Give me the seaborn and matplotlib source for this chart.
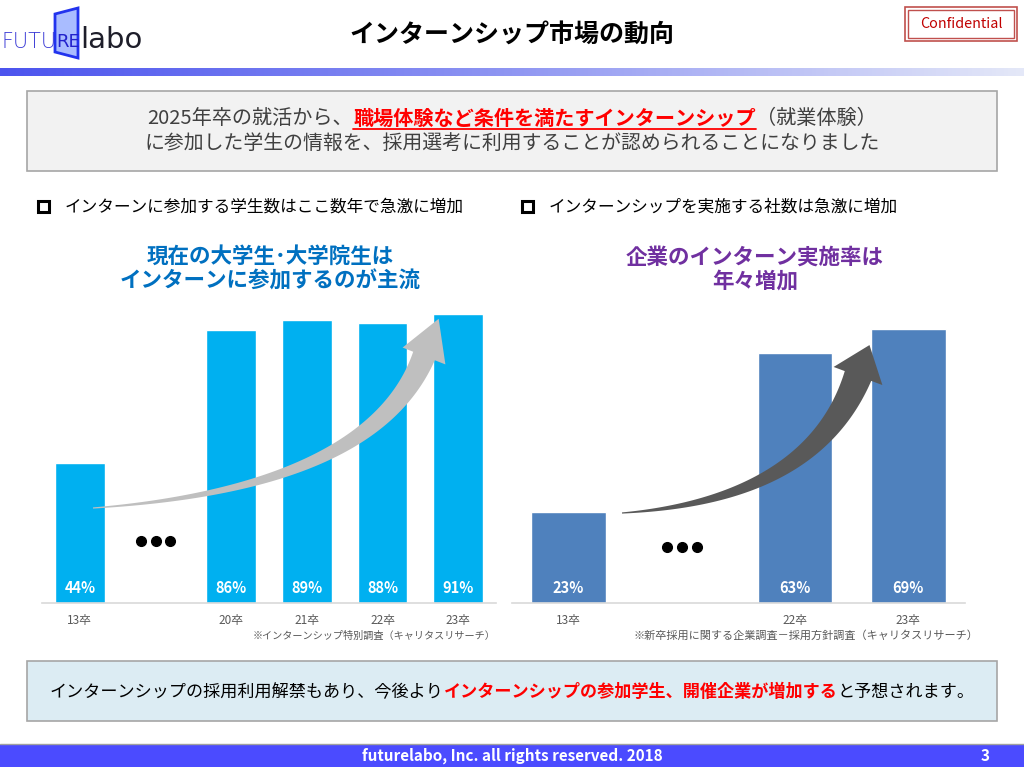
import numpy as np
import pandas as pd
import seaborn as sns
import matplotlib
matplotlib.use("Agg")
import matplotlib.pyplot as plt
from matplotlib.patches import Rectangle, Polygon
from matplotlib.colors import LinearSegmentedColormap

# データ
student_years = ["13卒", "20卒", "21卒", "22卒", "23卒"]
student_rates = [44, 86, 89, 88, 91]
student_order = ["13卒", " ", "20卒", "21卒", "22卒", "23卒"]

company_years = ["13卒", "22卒", "23卒"]
company_rates = [23, 63, 69]
company_order = ["13卒", " ", "22卒", "23卒"]

sns.set_theme(style="white")
plt.rcParams['font.family'] = ['Noto Sans CJK JP', 'DejaVu Sans']

W, H = 1024, 767
fig = plt.figure(figsize=(W / 100, H / 100), dpi=100)
fig.patch.set_facecolor("white")


def px_axes(x0, y0, x1, y1):
    return fig.add_axes([x0 / W, 1 - y1 / H, (x1 - x0) / W, (y1 - y0) / H])


def bar_panel(ax, years, rates, order, color, ymax, label_y, dots_y, dot_dx):
    df = pd.DataFrame({"year": years, "rate": rates})
    sns.barplot(data=df, x="year", y="rate", order=order, color=color,
                saturation=1, width=0.66, ax=ax)
    ax.set_ylim(0, ymax)
    ax.set_xlim(-0.5, len(order) - 0.5)
    ax.set_xlabel("")
    ax.set_ylabel("")
    ax.set_yticks([])
    sns.despine(ax=ax, left=True)
    ax.spines["bottom"].set_color("#D9D9D9")
    ax.spines["bottom"].set_linewidth(1.2)
    ax.tick_params(axis="x", length=0, pad=8, labelsize=8.5, labelcolor="#595959")
    ax.set_facecolor("none")
    for y, v in zip(years, rates):
        ax.text(order.index(y), label_y, f"{v}%", ha="center", va="center",
                color="white", fontsize=10.5, fontweight="bold")
    gap = order.index(" ")
    ax.plot([gap - dot_dx, gap, gap + dot_dx], [dots_y] * 3, "o", color="black",
            markersize=7, linestyle="none")


ax1 = px_axes(42, 285, 496, 603)
bar_panel(ax1, student_years, student_rates, student_order, "#00B0F0", 100, 4.7, 19.5, 0.19)

ax2 = px_axes(512, 285, 965, 603)
bar_panel(ax2, company_years, company_rates, company_order, "#4F81BD", 80, 3.8, 14, 0.13)

# 装飾用のオーバーレイ（ピクセル座標）
ov = fig.add_axes([0, 0, 1, 1])
ov.axis("off")
ov.patch.set_alpha(0)

grad = LinearSegmentedColormap.from_list("g", ["#4C54EE", "#8F96F2", "#E4E8F8"])
ov.imshow(np.linspace(0, 1, 256)[None, :], extent=(0, W, 76, 68), aspect="auto", cmap=grad)
ov.set_xlim(0, W)
ov.set_ylim(H, 0)

# ロゴ
ov.text(2, 42, "FUTU", fontsize=15, color="#3B3BD6", va="center", family="DejaVu Sans",
        fontweight="light")
ov.add_patch(Polygon([(55, 14), (78, 8), (78, 58), (55, 52)], closed=True,
                     fc="#A9BCFF", ec="#2233EE", lw=2))
ov.text(56, 42, "RE", fontsize=13, color="#2222CC", va="center", family="DejaVu Sans")
ov.text(80, 40, "labo", fontsize=21, color="#1E1E2A", va="center", family="DejaVu Sans")

# タイトル
ov.text(512, 35, "インターンシップ市場の動向", fontsize=18, fontweight="bold",
        ha="center", va="center", color="black")

# Confidential
ov.add_patch(Rectangle((905, 7), 112, 34, fc="none", ec="#C0504D", lw=1.2))
ov.add_patch(Rectangle((908, 10), 106, 28, fc="none", ec="#C0504D", lw=1.0))
ov.text(961, 24, "Confidential", fontsize=10.3, color="#C00000", ha="center", va="center")

renderer = fig.canvas.get_renderer()


def rich_line(cx, cy, parts, size):
    objs = []
    for s, color, bold in parts:
        objs.append(ov.text(0, cy, s, fontsize=size, color=color,
                            fontweight="bold" if bold else "normal",
                            ha="left", va="center"))
    widths = [t.get_window_extent(renderer).width for t in objs]
    x = cx - sum(widths) / 2
    starts = []
    for t, w in zip(objs, widths):
        t.set_x(x)
        starts.append(x)
        x += w
    return starts, widths


# 上のボックス
ov.add_patch(Rectangle((27, 91), 970, 80, fc="#F2F2F2", ec="#A6A6A6", lw=1.2))
starts, widths = rich_line(512, 118, [("2025年卒の就活から、", "#404040", False),
                                     ("職場体験など条件を満たすインターンシップ", "#FF0000", True),
                                     ("（就業体験）", "#404040", False)], 14.5)
ov.plot([starts[1], starts[1] + widths[1]], [129, 129], color="#FF0000", lw=1.3)
ov.text(512, 143, "に参加した学生の情報を、採用選考に利用することが認められることになりました",
        fontsize=14.3, color="#404040", ha="center", va="center")

# 見出し
for sx, txt in [(38, "インターンに参加する学生数はここ数年で急激に増加"),
                (522, "インターンシップを実施する社数は急激に増加")]:
    ov.add_patch(Rectangle((sx, 201), 11, 11, fc="none", ec="black", lw=2.2))
    ov.text(sx + 27, 207, txt, fontsize=12, color="black", ha="left", va="center")

ov.text(270, 269, "現在の大学生･大学院生は\nインターンに参加するのが主流", fontsize=15.5,
        fontweight="bold", color="#0070C0", ha="center", va="center", linespacing=1.2)
ov.text(755, 269, "企業のインターン実施率は\n年々増加", fontsize=15.5,
        fontweight="bold", color="#7030A0", ha="center", va="center", linespacing=1.2)


def curved_arrow(p0, p1, p2, w_end, head_w, head_len, color):
    p0, p1, p2 = map(np.array, (p0, p1, p2))
    t = np.linspace(0, 1, 100)[:, None]
    pts = (1 - t) ** 2 * p0 + 2 * (1 - t) * t * p1 + t ** 2 * p2
    d = 2 * (1 - t) * (p1 - p0) + 2 * t * (p2 - p1)
    d = d / np.linalg.norm(d, axis=1, keepdims=True)
    n = np.column_stack([-d[:, 1], d[:, 0]])
    hw = 0.6 + (w_end / 2) * t[:, 0] ** 1.1
    left = pts + n * hw[:, None]
    right = pts - n * hw[:, None]
    tip = p2 + d[-1] * head_len
    hl = p2 + n[-1] * head_w / 2
    hr = p2 - n[-1] * head_w / 2
    poly = np.vstack([left, hl, tip, hr, right[::-1]])
    ov.add_patch(Polygon(poly, closed=True, fc=color, ec="none"))


curved_arrow((93, 508), (372, 488), (424, 356), 22, 46, 40, "#BFBFBF")
curved_arrow((622, 513), (812, 500), (858, 376), 27, 52, 33, "#595959")

# 出典
ov.text(495, 636, "※インターンシップ特別調査（キャリタスリサーチ）", fontsize=7.3,
        color="#595959", ha="right", va="center")
ov.text(978, 636, "※新卒採用に関する企業調査－採用方針調査（キャリタスリサーチ）", fontsize=8,
        color="#595959", ha="right", va="center")

# 下のボックス
ov.add_patch(Rectangle((27, 661), 970, 60, fc="#DCECF3", ec="#A6A6A6", lw=1.2))
rich_line(512, 692, [("インターンシップの採用利用解禁もあり、今後より", "black", False),
                     ("インターンシップの参加学生、開催企業が増加する", "#FF0000", True),
                     ("と予想されます。", "black", False)], 12.3)

# フッター
ov.plot([0, W], [744, 744], color="#A0A0A0", lw=1)
ov.add_patch(Rectangle((0, 745), W, 22, fc="#4B4BFF", ec="none"))
ov.text(512, 756, "futurelabo, Inc. all rights reserved. 2018", fontsize=11,
        fontweight="bold", color="white", ha="center", va="center")
ov.text(985, 756, "3", fontsize=11, fontweight="bold", color="white", ha="center", va="center")

fig.savefig("out.png", dpi=100, facecolor="white")
